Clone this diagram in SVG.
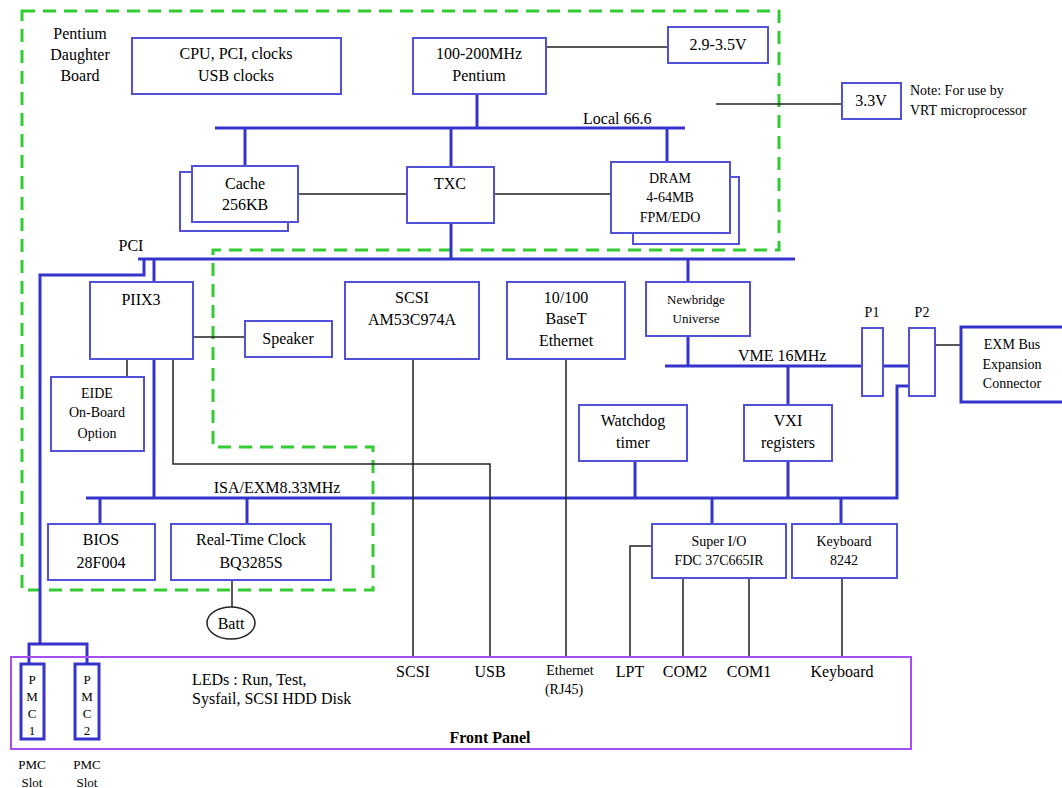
<svg xmlns="http://www.w3.org/2000/svg" width="1062" height="788" viewBox="0 0 1062 788" font-family="Liberation Serif">
<style>
text{font-size:16px;fill:#000;text-anchor:middle}
.s{font-size:14px}
.xs{font-size:13px}
.l{text-anchor:start}
.box{fill:#fff;stroke:#5252d9;stroke-width:2}
.tbox{fill:#fff;stroke:#3434cc;stroke-width:3}
.bus{stroke:#3434cc;stroke-width:3;fill:none}
.wire{stroke:#222;stroke-width:1.5;fill:none}
.dash{fill:none;stroke:#33cc33;stroke-width:3;stroke-dasharray:13 8}
</style>
<rect width="1062" height="788" fill="#fff"/>
<polygon id="daughter-board" class="dash" points="22,11 779,11 779,250 213,250 213,447 373,447 373,590 22,590"/>
<text font-family="Liberation Serif" x="80" y="39">Pentium</text>
<text font-family="Liberation Serif" x="80" y="60">Daughter</text>
<text font-family="Liberation Serif" x="80" y="81">Board</text>

<g id="connectors">
<path class="bus" d="M215,128H685 M477,94V128 M245,128V166 M451,128V167 M667,128V162 M451,223V259"/>
<path class="bus" d="M138,259H795 M144,259V275H40V644 M29,664V644H87V664"/>
<path class="bus" d="M154,259V282 M154,359V498 M86,498H897V386H909 M100,498V524 M247,498V524 M635,461V498 M788,461V498 M712,498V524 M841,498V524"/>
<path class="bus" d="M688,259V282 M688,336V366 M665,366H909 M788,366V405"/>
<path class="wire" d="M546,47H668 M716,104H842 M298,194H407 M494,194H611 M193,337H245 M127,359V377 M173,359V464H490V657 M413,359V657 M566,359V657 M652,546H630V657 M683,578V657 M749,578V657 M842,578V657 M935,345H961 M232,580V607"/>
</g>

<g id="cpu-clocks"><rect class="box" x="132" y="38" width="209" height="56"/><text font-family="Liberation Serif" x="236" y="59">CPU, PCI, clocks</text><text font-family="Liberation Serif" x="236" y="81">USB clocks</text></g>
<g id="pentium"><rect class="box" x="413" y="38" width="133" height="56"/><text font-family="Liberation Serif" x="479" y="59">100-200MHz</text><text font-family="Liberation Serif" x="479" y="81">Pentium</text></g>
<g id="v29"><rect class="box" x="668" y="27" width="100" height="36"/><text font-family="Liberation Serif" x="718" y="50">2.9-3.5V</text></g>
<g id="v33"><rect class="box" x="842" y="83" width="59" height="36"/><text font-family="Liberation Serif" x="871" y="106">3.3V</text></g>
<g id="note"><text font-family="Liberation Serif" class="s l" x="910" y="95">Note:  For use by</text><text font-family="Liberation Serif" class="s l" x="910" y="115">VRT microprocessor</text></g>
<text font-family="Liberation Serif" class="l" x="583" y="124">Local 66.6</text>

<g id="cache"><rect class="box" x="180" y="172" width="108" height="59"/><rect class="box" x="192" y="166" width="106" height="56"/><text font-family="Liberation Serif" x="245" y="189">Cache</text><text font-family="Liberation Serif" x="245" y="210">256KB</text></g>
<g id="txc"><rect class="box" x="407" y="167" width="87" height="56"/><text font-family="Liberation Serif" x="450" y="189">TXC</text></g>
<g id="dram"><rect class="box" x="633" y="177" width="106" height="67"/><rect class="box" x="611" y="162" width="119" height="71"/><text font-family="Liberation Serif" class="s" x="670" y="183">DRAM</text><text font-family="Liberation Serif" class="s" x="670" y="202">4-64MB</text><text font-family="Liberation Serif" class="s" x="670" y="222">FPM/EDO</text></g>

<text font-family="Liberation Serif" x="131" y="251">PCI</text>
<g id="piix3"><rect class="box" x="90" y="282" width="103" height="77"/><text font-family="Liberation Serif" x="141" y="305">PIIX3</text></g>
<g id="speaker"><rect class="box" x="245" y="321" width="87" height="36"/><text font-family="Liberation Serif" x="288" y="344">Speaker</text></g>
<g id="eide"><rect class="box" x="51" y="377" width="93" height="74"/><text font-family="Liberation Serif" class="s" x="97" y="398">EIDE</text><text font-family="Liberation Serif" class="s" x="97" y="417">On-Board</text><text font-family="Liberation Serif" class="s" x="97" y="438">Option</text></g>
<g id="scsi"><rect class="box" x="345" y="282" width="134" height="77"/><text font-family="Liberation Serif" x="412" y="303">SCSI</text><text font-family="Liberation Serif" x="412" y="325">AM53C974A</text></g>
<g id="ethernet"><rect class="box" x="507" y="282" width="118" height="77"/><text font-family="Liberation Serif" x="566" y="303">10/100</text><text font-family="Liberation Serif" x="566" y="324">BaseT</text><text font-family="Liberation Serif" x="566" y="346">Ethernet</text></g>
<g id="newbridge"><rect class="box" x="646" y="282" width="104" height="54"/><text font-family="Liberation Serif" class="xs" x="696" y="304">Newbridge</text><text font-family="Liberation Serif" class="xs" x="696" y="323">Universe</text></g>
<text font-family="Liberation Serif" class="l" x="738" y="361">VME 16MHz</text>
<text font-family="Liberation Serif" class="s" x="872" y="317">P1</text>
<text font-family="Liberation Serif" class="s" x="922" y="317">P2</text>
<g id="p1"><rect class="box" x="862" y="328" width="21" height="68"/></g>
<g id="p2"><rect class="box" x="909" y="328" width="26" height="68"/></g>
<g id="exm"><rect class="tbox" x="961" y="327" width="103" height="75"/><text font-family="Liberation Serif" class="s" x="1012" y="349">EXM Bus</text><text font-family="Liberation Serif" class="s" x="1012" y="369">Expansion</text><text font-family="Liberation Serif" class="s" x="1012" y="388">Connector</text></g>
<g id="watchdog"><rect class="box" x="579" y="405" width="108" height="56"/><text font-family="Liberation Serif" x="633" y="426">Watchdog</text><text font-family="Liberation Serif" x="633" y="448">timer</text></g>
<g id="vxi"><rect class="box" x="744" y="405" width="88" height="56"/><text font-family="Liberation Serif" x="788" y="426">VXI</text><text font-family="Liberation Serif" x="788" y="448">registers</text></g>
<text font-family="Liberation Serif" x="277" y="493">ISA/EXM8.33MHz</text>

<g id="bios"><rect class="box" x="48" y="524" width="107" height="56"/><text font-family="Liberation Serif" x="101" y="545">BIOS</text><text font-family="Liberation Serif" x="101" y="568">28F004</text></g>
<g id="rtc"><rect class="box" x="171" y="524" width="160" height="56"/><text font-family="Liberation Serif" x="251" y="545">Real-Time Clock</text><text font-family="Liberation Serif" x="251" y="568">BQ3285S</text></g>
<g id="batt"><ellipse cx="231" cy="623" rx="24" ry="16" fill="#fff" stroke="#222" stroke-width="1.5"/><text font-family="Liberation Serif" x="231" y="629">Batt</text></g>
<g id="superio"><rect class="box" x="652" y="524" width="134" height="54"/><text font-family="Liberation Serif" class="s" x="719" y="546">Super I/O</text><text font-family="Liberation Serif" class="s" x="719" y="565">FDC 37C665IR</text></g>
<g id="kbd"><rect class="box" x="792" y="524" width="105" height="54"/><text font-family="Liberation Serif" class="s" x="844" y="546">Keyboard</text><text font-family="Liberation Serif" class="s" x="844" y="565">8242</text></g>

<g id="front-panel"><rect x="11" y="657" width="900" height="92" fill="none" stroke="#a64ff0" stroke-width="2"/>
<text font-family="Liberation Serif" class="l" x="192" y="685">LEDs : Run, Test,</text><text font-family="Liberation Serif" class="l" x="192" y="704">Sysfail, SCSI HDD Disk</text>
<text font-family="Liberation Serif" x="413" y="677">SCSI</text><text font-family="Liberation Serif" x="490" y="677">USB</text><text font-family="Liberation Serif" class="s" x="570" y="675">Ethernet</text><text font-family="Liberation Serif" class="s" x="564" y="694">(RJ45)</text><text font-family="Liberation Serif" x="630" y="677">LPT</text><text font-family="Liberation Serif" x="685" y="677">COM2</text><text font-family="Liberation Serif" x="749" y="677">COM1</text><text font-family="Liberation Serif" x="842" y="677">Keyboard</text>
<text font-family="Liberation Serif" x="490" y="743" font-weight="bold" font-size="15">Front Panel</text></g>

<g id="pmc1"><rect class="tbox" x="21" y="664" width="23" height="75"/><text font-family="Liberation Serif" class="xs" x="32" y="684">P</text><text font-family="Liberation Serif" class="xs" x="32" y="701">M</text><text font-family="Liberation Serif" class="xs" x="32" y="718">C</text><text font-family="Liberation Serif" class="xs" x="32" y="735">1</text></g>
<g id="pmc2"><rect class="tbox" x="75" y="664" width="24" height="75"/><text font-family="Liberation Serif" class="xs" x="87" y="684">P</text><text font-family="Liberation Serif" class="xs" x="87" y="701">M</text><text font-family="Liberation Serif" class="xs" x="87" y="718">C</text><text font-family="Liberation Serif" class="xs" x="87" y="735">2</text></g>
<text font-family="Liberation Serif" class="xs" x="32" y="769">PMC</text><text font-family="Liberation Serif" class="xs" x="32" y="787">Slot</text>
<text font-family="Liberation Serif" class="xs" x="87" y="769">PMC</text><text font-family="Liberation Serif" class="xs" x="87" y="787">Slot</text>
</svg>
